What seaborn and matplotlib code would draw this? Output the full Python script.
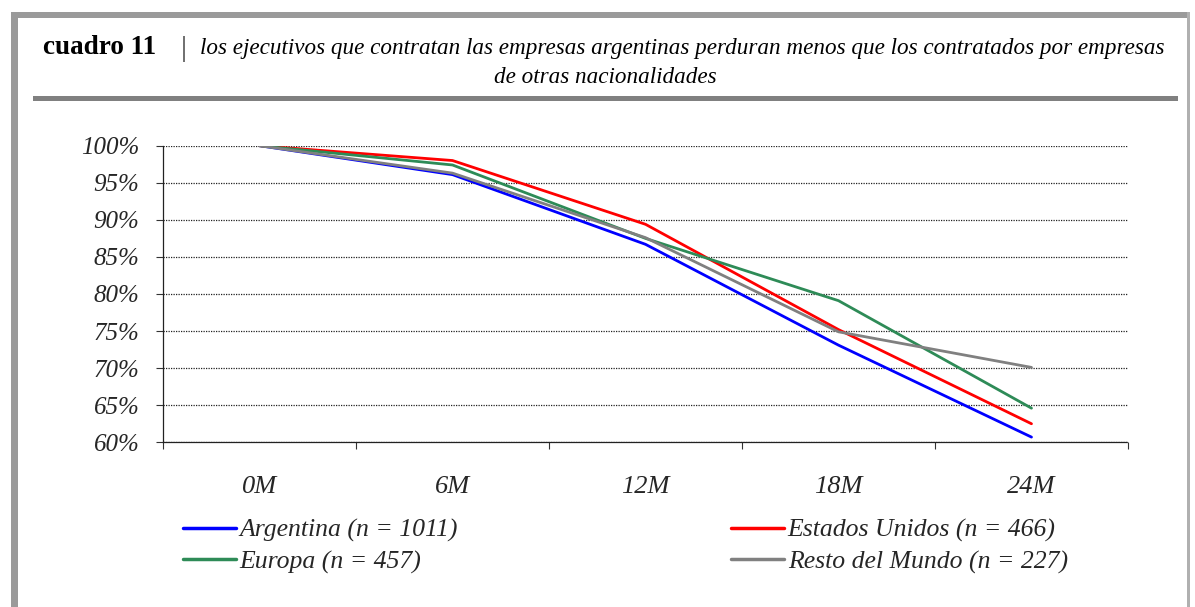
import numpy as np
import pandas as pd
import seaborn as sns
import matplotlib
matplotlib.use("Agg")
import matplotlib.pyplot as plt
from matplotlib.patches import Rectangle
from matplotlib.lines import Line2D

# --- data -------------------------------------------------------------
periodos = ["0M", "6M", "12M", "18M", "24M"]
argentina = [100.0, 96.1, 86.7, 73.1, 60.7]
estados_unidos = [100.0, 98.0, 89.4, 75.2, 62.5]
europa = [100.0, 97.4, 87.5, 79.1, 64.6]
resto_mundo = [100.0, 96.3, 87.6, 74.9, 70.1]

series = ["Argentina (n = 1011)", "Estados Unidos (n = 466)",
          "Europa (n = 457)", "Resto del Mundo (n = 227)"]
valores = [argentina, estados_unidos, europa, resto_mundo]
colores = ["#0000FF", "#FF0000", "#2E8B57", "#808080"]

titulo_num = "cuadro 11"
titulo_l1 = ("los ejecutivos que contratan las empresas argentinas perduran "
             "menos que los contratados por empresas")
titulo_l2 = "de otras nacionalidades"

df = pd.DataFrame({
    "pos": np.tile(np.arange(len(periodos)), len(series)),
    "serie": np.repeat(series, len(periodos)),
    "valor": np.concatenate(valores),
})

# --- figure -----------------------------------------------------------
W, H = 1195, 607
sns.set_theme(style="white")
plt.rcParams["font.family"] = ["Liberation Serif", "DejaVu Serif"]

fig = plt.figure(figsize=(W / 100, H / 100), dpi=100)
fig.patch.set_facecolor("white")


def px_box(x0, y0, x1, y1):
    """Convert a top-left based pixel box to figure fractions."""
    return (x0 / W, 1 - y1 / H, (x1 - x0) / W, (y1 - y0) / H)


# frame around the panel
for (x0, y0, x1, y1), c in [((11, 12, 18, H), "#9a9a9a"),
                            ((11, 12, 1190, 18), "#9a9a9a"),
                            ((1187, 12, 1190, H), "#b0b0b0"),
                            ((33, 96, 1178, 101), "#808080")]:
    l, b, w, h = px_box(x0, y0, x1, y1)
    fig.add_artist(Rectangle((l, b), w, h, transform=fig.transFigure,
                             facecolor=c, edgecolor="none"))

# title
fig.text(43 / W, 1 - 54 / H, titulo_num, fontsize=19.5,
         fontweight="bold", ha="left", va="baseline", color="black")
fig.text(181 / W, 1 - 56 / H, "|", fontsize=21, ha="left",
         va="baseline", color="#444444", fontweight="light")
fig.text(682 / W, 1 - 54 / H, titulo_l1, fontsize=16.7, style="italic",
         ha="center", va="baseline", color="black")
fig.text(605 / W, 1 - 83 / H, titulo_l2, fontsize=16.7, style="italic",
         ha="center", va="baseline", color="black")

# plot area
ax_l, ax_r, ax_t, ax_b = 163, 1128, 145.7, 442.3
ax = fig.add_axes([ax_l / W, 1 - ax_b / H, (ax_r - ax_l) / W, (ax_b - ax_t) / H])
ax.set_facecolor("white")

sns.lineplot(data=df, x="pos", y="valor", hue="serie", hue_order=series,
             palette=colores, linewidth=2.0, sort=False, ax=ax, legend=False)

ax.set_xlim(-0.5, len(periodos) - 0.5)
ax.set_ylim(60, 100)
ax.set_xlabel("")
ax.set_ylabel("")

yt = np.arange(60, 101, 5)
ax.set_yticks(yt)
ax.set_yticklabels([f"{v}%" for v in yt], fontsize=18, style="italic")
ax.yaxis.grid(True, linestyle=(0, (1, 1)), color="#222222", linewidth=0.9)
ax.xaxis.grid(False)
ax.set_axisbelow(True)

# category boundaries as ticks, labels at centres
ax.set_xticks(np.arange(-0.5, len(periodos), 1.0))
ax.set_xticklabels([])
ax.set_xticks(np.arange(len(periodos)), minor=True)
ax.set_xticklabels(periodos, minor=True, fontsize=19, style="italic")
ax.tick_params(axis="x", which="major", direction="out", length=5,
               width=0.8, color="#333333", bottom=True)
ax.tick_params(axis="x", which="minor", length=0, pad=24)
ax.tick_params(axis="y", direction="out", length=5, width=0.8,
               color="#333333", left=True, pad=12)

for side in ["top", "right"]:
    ax.spines[side].set_visible(False)
for side in ["left", "bottom"]:
    ax.spines[side].set_visible(True)
    ax.spines[side].set_linestyle((0, (1, 1)))
    ax.spines[side].set_color("#222222")
    ax.spines[side].set_linewidth(0.9)

# legend in two fixed columns
handles = [Line2D([], [], color=c, linewidth=2.5) for c in colores]
legend_cols = [([0, 2], 183), ([1, 3], 731)]
for idx, xpix in legend_cols:
    fig.legend([handles[i] for i in idx], [series[i] for i in idx],
               loc="upper left", bbox_to_anchor=(xpix / W, 1 - 519 / H),
               frameon=False, handlelength=2.05,
               handletextpad=0.16, labelspacing=0.3, borderaxespad=0,
               borderpad=0, prop={"style": "italic", "size": 18.5})

fig.savefig("out.png", dpi=100, facecolor="white")
